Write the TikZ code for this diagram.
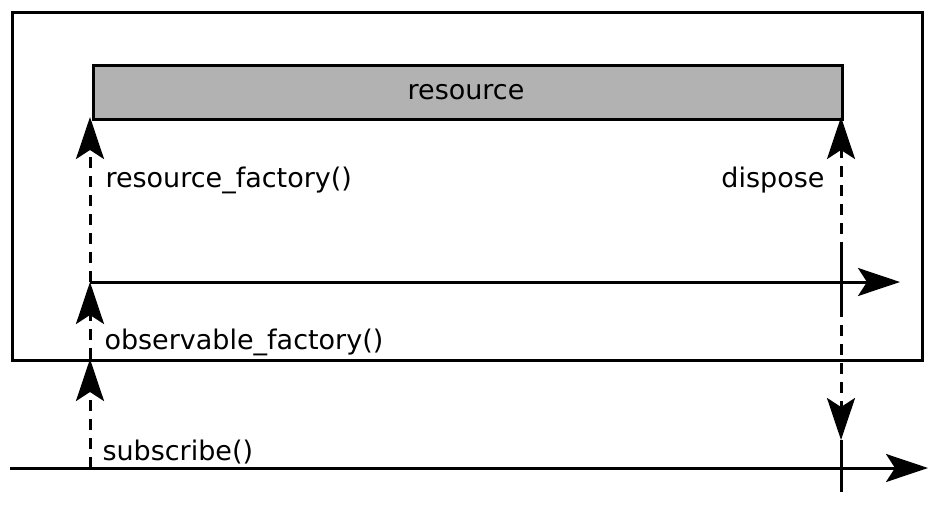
\documentclass[tikz,border=0pt]{standalone}
\usepackage{fontspec}
\setmainfont{DejaVu Sans}
\usetikzlibrary{arrows.meta}
\begin{document}
\begin{tikzpicture}[x=1pt,y=-1pt,
  line width=3pt,
  tip/.style={-{Stealth[length=42pt,width=28pt,inset=9pt]}},
  dsh/.style={dash pattern=on 11pt off 8pt},
  lbl/.style={font=\fontsize{27}{30}\selectfont, inner sep=0pt},
  box/.style={draw, line width=3pt, inner sep=0pt}]
\useasboundingbox (0,0) rectangle (939,504);
% outer box
\node[box, minimum width=910pt, minimum height=348pt, anchor=north west] (outer) at (11,11) {};
% resource box
\node[box, fill=black!30, minimum width=749pt, minimum height=54pt, anchor=north west] (res) at (92,64) {};
\node[lbl, anchor=base] (restext) at (466,99) {resource};
% key coordinates
\coordinate (l0) at (10,468);
\coordinate (l1) at (928,468);
\coordinate (m0) at (90,282);
\coordinate (m1) at (900,282);
\coordinate (s0) at (90,468);
\coordinate (s1) at (90,359);
\coordinate (rf) at (90,117);
\coordinate (dtop) at (841,117);
\coordinate (dbot) at (841,440);
\coordinate (t1a) at (841,253);
\coordinate (t1b) at (841,306);
\coordinate (t2a) at (841,440);
\coordinate (t2b) at (841,492);
% timelines
\draw[tip] (l0) -- (l1);
\draw[tip] (m0) -- (m1);
% left dashed arrows
\draw[tip, dsh] (s0) -- (s1);
\draw[tip, dsh] (s1) -- (m0);
\draw[tip, dsh] (m0) -- (rf);
% right dashed (dispose)
\draw[tip, dsh] (t1a) -- (dtop);
\draw[tip, dsh] (t1b) -- (dbot);
\draw (t1a) -- (t1b);
\draw (t2a) -- (t2b);
% labels
\node[lbl, anchor=base west] (lrf) at (104,187) {resource\_factory()};
\node[lbl, anchor=base east] (ldisp) at (826,187) {dispose};
\node[lbl, anchor=base west] (lobs) at (103,349) {observable\_factory()};
\node[lbl, anchor=base west] (lsub) at (101,460) {subscribe()};
\end{tikzpicture}
\end{document}
